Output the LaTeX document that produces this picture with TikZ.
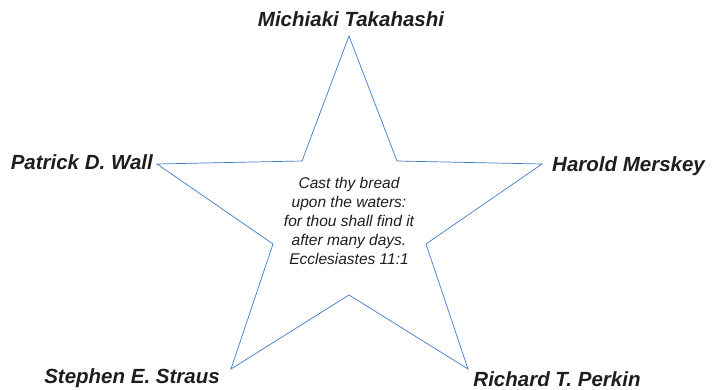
\documentclass[tikz,border=0pt]{standalone}
\usepackage{fontspec}
\setmainfont{Liberation Sans}
\definecolor{starblue}{RGB}{62,122,198}
\definecolor{txtgray}{RGB}{30,30,30}
\begin{document}
\begin{tikzpicture}[x=1pt,y=-1pt,
  namelabel/.style={font=\fontsize{20.5}{24}\selectfont\bfseries\itshape, text=txtgray, inner sep=0pt, anchor=base},
  quote/.style={font=\fontsize{15.5}{19}\selectfont\itshape, text=txtgray, inner sep=0pt, align=center, anchor=base},
  starline/.style={draw=starblue, line width=0.7pt, line join=miter}]
\useasboundingbox (0,0) rectangle (713,390);
% star vertices
\coordinate (pt) at (349,36);
\coordinate (itr) at (397,161);
\coordinate (pr) at (542,164);
\coordinate (ir) at (426,244);
\coordinate (pbr) at (468,369);
\coordinate (ib) at (349,295);
\coordinate (pbl) at (231,369);
\coordinate (il) at (273,244);
\coordinate (pl) at (157,164);
\coordinate (itl) at (302,161);
\draw[starline] (pt) -- (itr) -- (pr) -- (ir) -- (pbr) -- (ib) -- (pbl) -- (il) -- (pl) -- (itl) -- cycle;
% labels
\node[namelabel] (mt) at (351,27) {Michiaki Takahashi};
\node[namelabel, anchor=base east] (pw) at (153,170) {Patrick D. Wall};
\node[namelabel, anchor=base west] (hm) at (552,172) {Harold Merskey};
\node[namelabel] (ss) at (132,384) {Stephen E. Straus};
\node[namelabel] (rp) at (557,386) {Richard T. Perkin};
\node[quote] (q) at (349,265) {Cast thy bread\\upon the waters:\\for thou shall find it\\after many days.\\Ecclesiastes 11:1};
\end{tikzpicture}
\end{document}
